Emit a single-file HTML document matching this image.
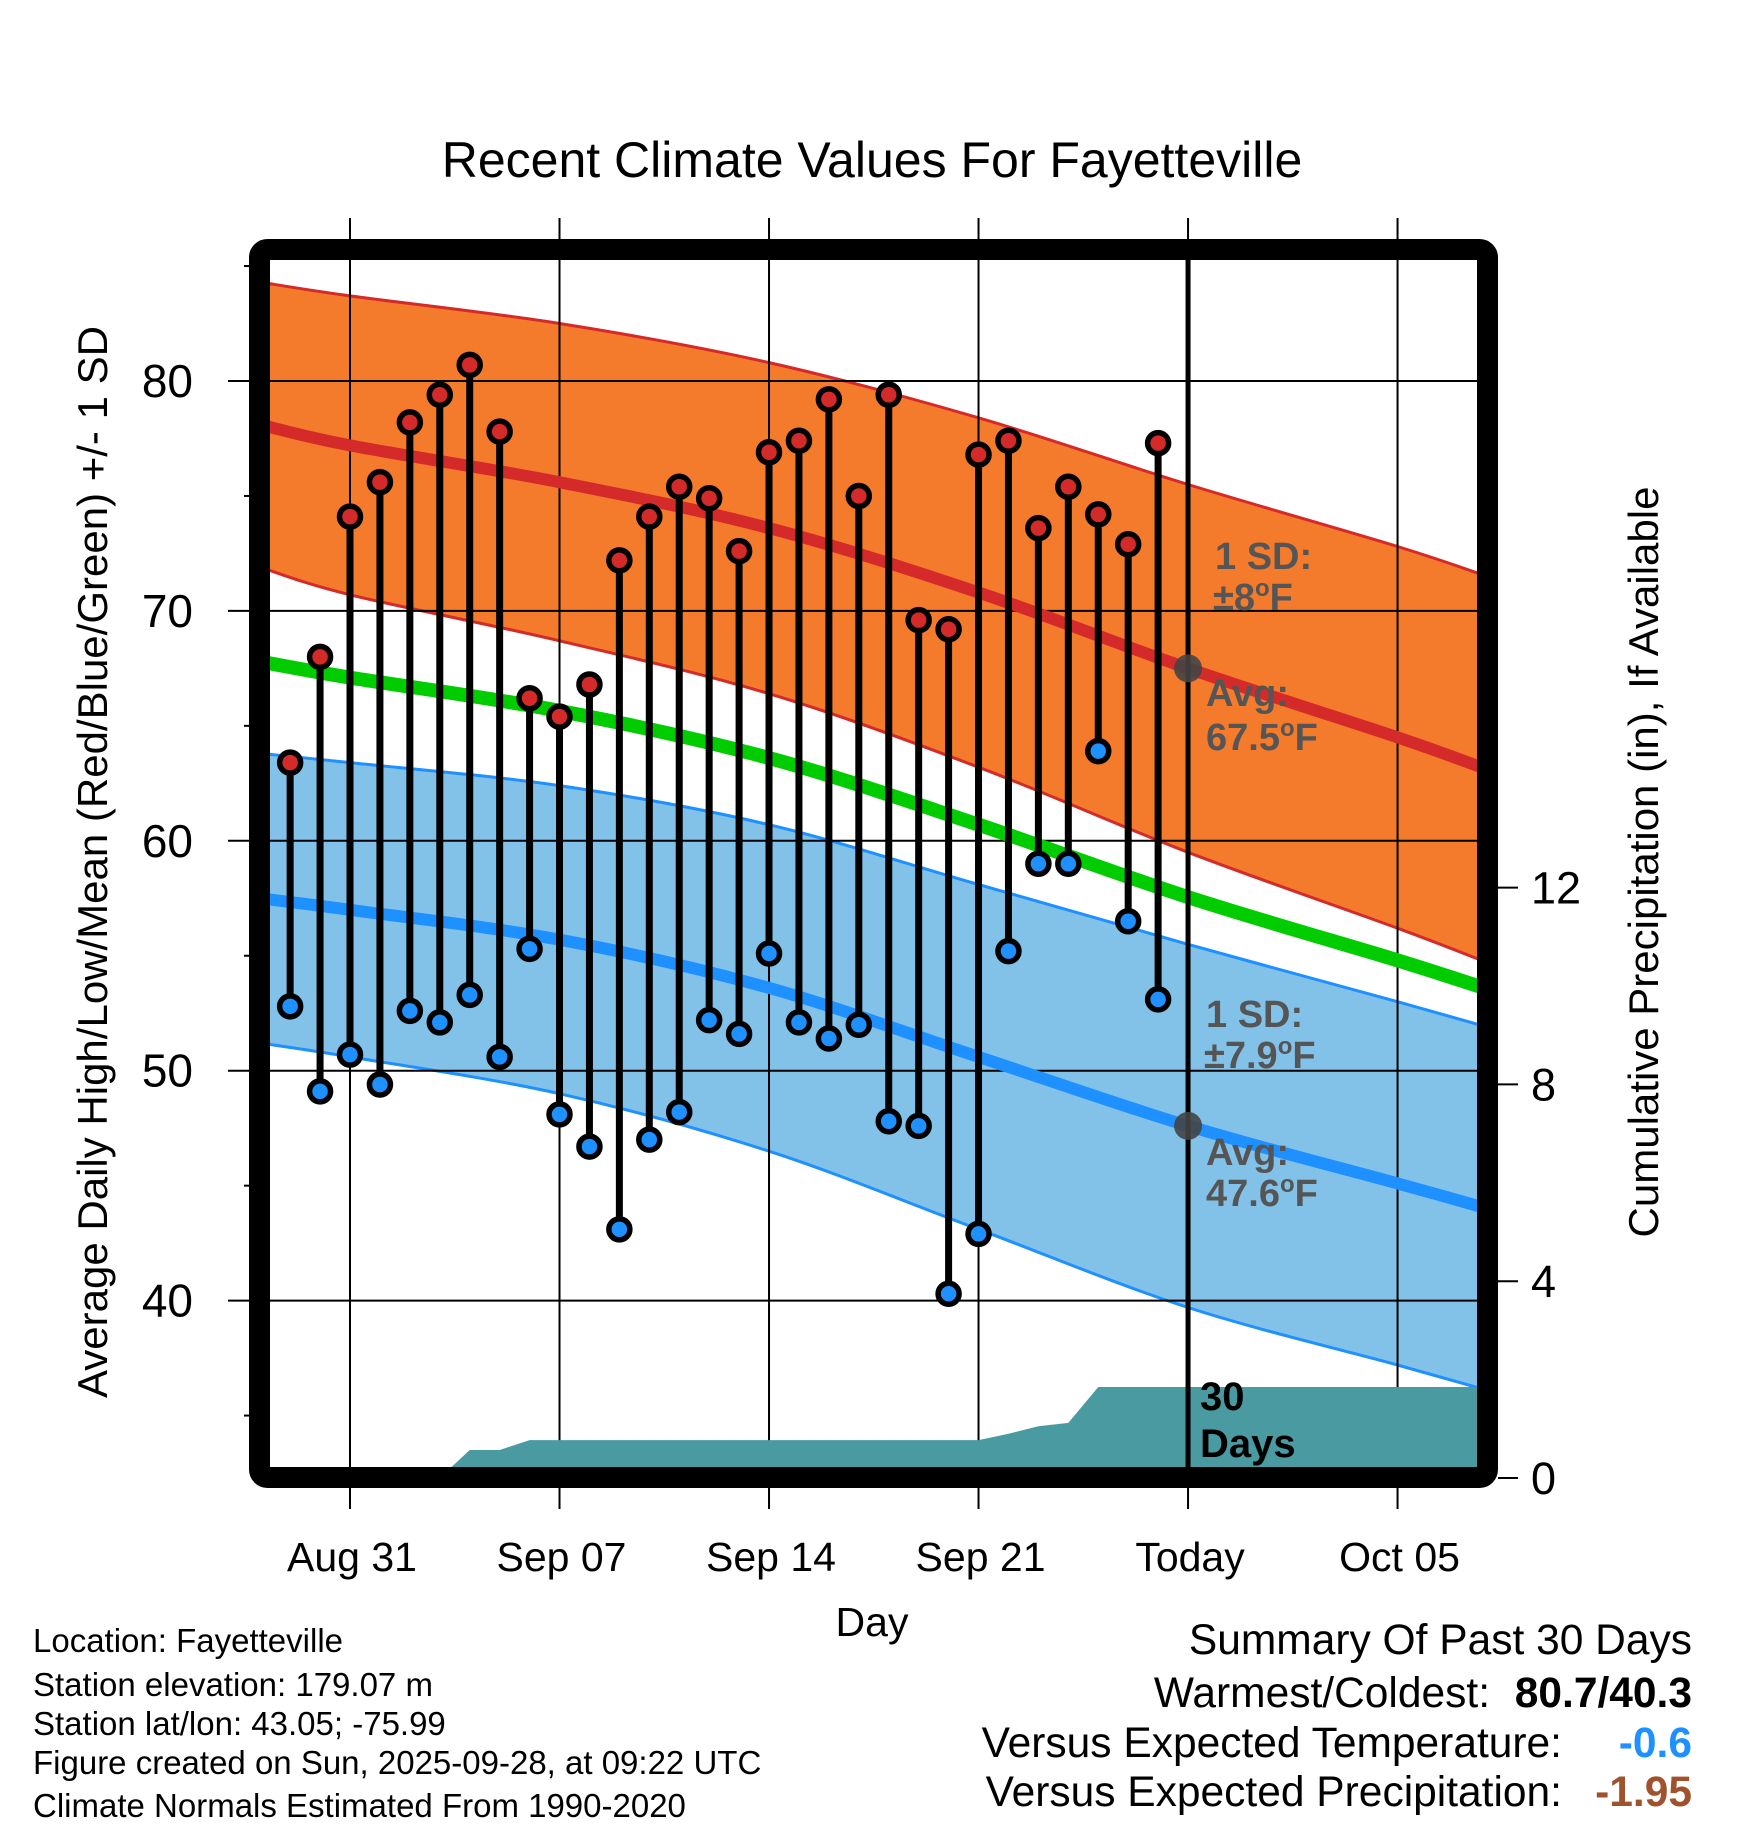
<!DOCTYPE html>
<html><head><meta charset="utf-8"><style>
html,body{margin:0;padding:0;background:#fff}
svg{display:block;font-family:"Liberation Sans",Arial,sans-serif}
</style></head><body>
<svg id="chart" width="1748" height="1828" viewBox="0 0 1748 1828" xmlns="http://www.w3.org/2000/svg">
<text x="872" y="177" font-size="50" text-anchor="middle">Recent Climate Values For Fayetteville</text>
<g id="bands"></g><g id="grid"></g><g id="precip"></g><g id="normals"></g><g id="today"></g><g id="stems"></g><g id="marks"></g>
<rect x="259.5" y="249.5" width="1228" height="1228" rx="8" fill="none" stroke="#000" stroke-width="21"/>
<g id="axes"></g>
<g font-weight="bold" fill="#555" font-size="38">
<text x="1215" y="569">1 SD:</text>
<text x="1213" y="610">±8<tspan font-size="24" dy="-14">o</tspan><tspan dy="14">F</tspan></text>
<text x="1206" y="706">Avg:</text>
<text x="1206" y="750">67.5<tspan font-size="24" dy="-14">o</tspan><tspan dy="14">F</tspan></text>
<text x="1206" y="1027">1 SD:</text>
<text x="1204" y="1068">±7.9<tspan font-size="24" dy="-14">o</tspan><tspan dy="14">F</tspan></text>
<text x="1206" y="1165">Avg:</text>
<text x="1206" y="1206">47.6<tspan font-size="24" dy="-14">o</tspan><tspan dy="14">F</tspan></text>
</g>
<text x="1200" y="1410" font-size="40" font-weight="bold">30</text>
<text x="1200" y="1457" font-size="40" font-weight="bold">Days</text>
<text transform="translate(107,862) rotate(-90)" font-size="42" text-anchor="middle">Average Daily High/Low/Mean (Red/Blue/Green) +/- 1 SD</text>
<text transform="translate(1658,862) rotate(-90)" font-size="42" text-anchor="middle">Cumulative Precipitation (in), If Available</text>
<text x="872" y="1636" font-size="41" text-anchor="middle">Day</text>
<g font-size="33">
<text x="33" y="1652">Location: Fayetteville</text>
<text x="33" y="1696">Station elevation: 179.07 m</text>
<text x="33" y="1735">Station lat/lon: 43.05; -75.99</text>
<text x="33" y="1774">Figure created on Sun, 2025-09-28, at 09:22 UTC</text>
<text x="33" y="1817">Climate Normals Estimated From 1990-2020</text>
</g>
<g font-size="42.5" text-anchor="end">
<text x="1692" y="1654">Summary Of Past 30 Days</text>
<text x="1490" y="1707">Warmest/Coldest:</text>
<text x="1692" y="1707" font-weight="bold">80.7/40.3</text>
<text x="1562" y="1757">Versus Expected Temperature:</text>
<text x="1692" y="1757" font-weight="bold" fill="#1e90ff">-0.6</text>
<text x="1562" y="1806">Versus Expected Precipitation:</text>
<text x="1692" y="1806" font-weight="bold" fill="#a0522d">-1.95</text>
</g>
</svg>
<script>
// data
const obsDays = [-2,-1,0,1,2,3,4,5,6,7,8,9,10,11,12,13,14,15,16,17,18,19,20,21,22,23,24,25,26,27];
const highs = [63.4,68.0,74.1,75.6,78.2,79.4,80.7,77.8,66.2,65.4,66.8,72.2,74.1,75.4,74.9,72.6,76.9,77.4,79.2,75.0,79.4,69.6,69.2,76.8,77.4,73.6,75.4,74.2,72.9,77.3];
const lows = [52.8,49.1,50.7,49.4,52.6,52.1,53.3,50.6,55.3,48.1,46.7,43.1,47.0,48.2,52.2,51.6,55.1,52.1,51.4,52.0,47.8,47.6,40.3,42.9,55.2,59.0,59.0,63.9,56.5,53.1];
const normDays = [-3,0,7,14,21,28,35,38];
const normHigh = [78.1,77.2,75.6,73.6,70.8,67.5,64.5,63.1];
const sdHigh = [6.2,6.5,6.9,7.2,7.6,8.0,8.3,8.4];
const normLow = [57.5,57.0,55.7,53.6,50.6,47.6,45.1,44.0];
const sdLow = [6.3,6.4,6.7,7.1,7.5,7.9,7.9,7.9];
const precipDays = [-3,3,4,5,6,21,22,23,24,25,38];
const precipCum = [0,0,0.57,0.57,0.77,0.77,0.9,1.05,1.12,1.85,1.85];
const xTickDays = [0,7,14,21,28,35];
const xTickLabels = ["Aug 31","Sep 07","Sep 14","Sep 21","Today","Oct 05"];
const yTicks = [40,50,60,70,80];
const yMinor = [35,45,55,65,75,85];
const pTicks = [0,4,8,12];
const todayDay = 28;
const todayHigh = 67.5, todayLow = 47.6;

const X0=270,X1=1478,Y0=260,Y1=1468;
const x = d => 350 + d*29.93;
const y = v => 381 + (80-v)*22.99;
const yp = v => 1478 - v*49.2;
const NS="http://www.w3.org/2000/svg";
function mk(parent,tag,attrs){const e=document.createElementNS(NS,tag);for(const k in attrs)e.setAttribute(k,attrs[k]);document.getElementById(parent).appendChild(e);return e;}
const svg=document.getElementById('chart');
const cp=document.createElementNS(NS,'clipPath');cp.setAttribute('id','plotclip');
const cr=document.createElementNS(NS,'rect');cr.setAttribute('x',X0);cr.setAttribute('y',Y0);cr.setAttribute('width',X1-X0);cr.setAttribute('height',Y1-Y0);
cp.appendChild(cr);svg.insertBefore(cp,svg.firstChild);
['bands','precip','normals'].forEach(id=>document.getElementById(id).setAttribute('clip-path','url(#plotclip)'));

// smooth path (Catmull-Rom) through points
function smooth(P,start){let s=start?('M'+P[0][0].toFixed(1)+','+P[0][1].toFixed(1)):('L'+P[0][0].toFixed(1)+','+P[0][1].toFixed(1));
 for(let i=0;i<P.length-1;i++){const p0=P[Math.max(0,i-1)],p1=P[i],p2=P[i+1],p3=P[Math.min(P.length-1,i+2)];
  const c1=[p1[0]+(p2[0]-p0[0])/6,p1[1]+(p2[1]-p0[1])/6],c2=[p2[0]-(p3[0]-p1[0])/6,p2[1]-(p3[1]-p1[1])/6];
  s+=' C'+c1.map(v=>v.toFixed(1)).join(',')+' '+c2.map(v=>v.toFixed(1)).join(',')+' '+p2.map(v=>v.toFixed(1)).join(',');}
 return s;}
const P=(days,vals)=>days.map((d,i)=>[x(d),y(vals[i])]);
const hiUp=normHigh.map((v,i)=>v+sdHigh[i]), hiDn=normHigh.map((v,i)=>v-sdHigh[i]);
const loUp=normLow.map((v,i)=>v+sdLow[i]), loDn=normLow.map((v,i)=>v-sdLow[i]);
const mean=normHigh.map((v,i)=>(v+normLow[i])/2);
let e;
e=mk('bands','path',{d:smooth(P(normDays,hiUp),true)+' '+smooth(P(normDays,hiDn).reverse(),false)+' Z',fill:'#f47a2c',stroke:'#d42a2a','stroke-width':3});


e=mk('bands','path',{d:smooth(P(normDays,loUp),true)+' '+smooth(P(normDays,loDn).reverse(),false)+' Z',fill:'#82c1e8',stroke:'#1e90ff','stroke-width':3});


// grid
yTicks.forEach(v=>{e=mk('grid','line',{x1:228,x2:X1,y1:y(v),y2:y(v),stroke:'#000','stroke-width':2});

});
yMinor.forEach(v=>{e=mk('grid','line',{x1:244,x2:250,y1:y(v),y2:y(v),stroke:'#000','stroke-width':2});

});
xTickDays.forEach((d,i)=>{e=mk('grid','line',{x1:x(d),x2:x(d),y1:218,y2:1509,stroke:'#000','stroke-width':2});


const t=mk('axes','text',{x:x(d)+2,y:1571,'font-size':41,'text-anchor':'middle'});t.textContent=xTickLabels[i];

});
yTicks.forEach(v=>{const t=mk('axes','text',{x:193,y:y(v)+16,'font-size':46,'text-anchor':'end'});t.textContent=v;

});
pTicks.forEach(v=>{e=mk('axes','line',{x1:1498,x2:1518,y1:yp(v),y2:yp(v),stroke:'#000','stroke-width':2});


const t=mk('axes','text',{x:1531,y:yp(v)+16,'font-size':45});t.textContent=v;

});
// precip
const pp=precipDays.map((d,i)=>x(d).toFixed(1)+','+yp(precipCum[i]).toFixed(1));
pp.push(x(precipDays[precipDays.length-1])+','+yp(0));pp.push(x(precipDays[0])+','+yp(0));
e=mk('precip','polygon',{points:pp.join(' '),fill:'#4a9aa2'});


// normal lines
e=mk('normals','path',{d:smooth(P(normDays,normHigh),true),fill:'none',stroke:'#d42a2a','stroke-width':12});


e=mk('normals','path',{d:smooth(P(normDays,normLow),true),fill:'none',stroke:'#1e90ff','stroke-width':12});


e=mk('normals','path',{d:smooth(P(normDays,mean),true),fill:'none',stroke:'#00cc00','stroke-width':14});


// today
e=mk('today','line',{x1:x(todayDay),x2:x(todayDay),y1:Y0,y2:Y1,stroke:'#000','stroke-width':5});


[todayHigh,todayLow].forEach((v,i)=>{e=mk('today','circle',{cx:x(todayDay),cy:y(v),r:14,fill:'#444','fill-opacity':0.9});

});
// observations
obsDays.forEach((d,i)=>{
 e=mk('stems','line',{x1:x(d),x2:x(d),y1:y(highs[i]),y2:y(lows[i]),stroke:'#000','stroke-width':7});
 
 
 e=mk('marks','circle',{cx:x(d),cy:y(highs[i]),r:10.5,fill:'#d42a2a',stroke:'#000','stroke-width':5.5});
 
 
 e=mk('marks','circle',{cx:x(d),cy:y(lows[i]),r:10.5,fill:'#1e90ff',stroke:'#000','stroke-width':5.5});
 
 
});
</script>
</body></html>
